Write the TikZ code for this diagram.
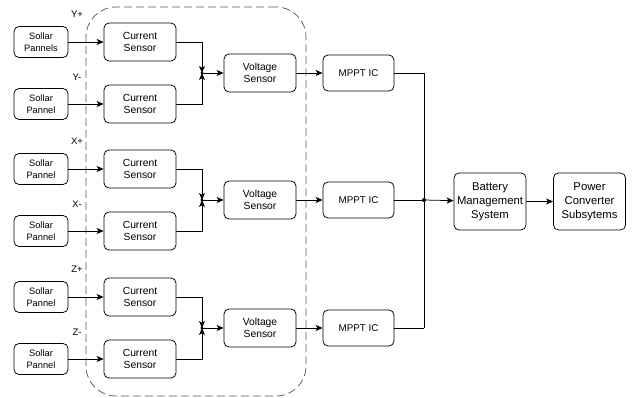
\documentclass[tikz,border=0pt]{standalone}
\usepackage{fontspec}
\setmainfont{Liberation Sans}
\usetikzlibrary{arrows.meta}
\begin{document}
\begin{tikzpicture}[x=1pt,y=-1pt,
  blk/.style={draw, rounded corners=5pt, align=center, inner sep=0pt, line width=0.75pt},
  panel/.style={blk, minimum width=54pt, minimum height=31pt, font=\fontsize{9.3}{11.5}\selectfont},
  sensor/.style={blk, minimum width=72pt, minimum height=38pt, font=\fontsize{10.3}{12.3}\selectfont},
  mppt/.style={blk, minimum width=71pt, minimum height=36pt, font=\fontsize{9.8}{12}\selectfont},
  bigbox/.style={blk, minimum width=72pt, minimum height=57pt, font=\fontsize{11.3}{13.8}\selectfont},
  lbl/.style={font=\fontsize{9.5}{11}\selectfont, inner sep=0pt},
  arr/.style={-{Stealth[length=7pt,width=6pt,inset=1.8pt]}, line width=0.75pt},
  ln/.style={line width=0.75pt},
  grp/.style={draw=black!65, dash pattern=on 8pt off 4pt, rounded corners=30pt, line width=0.75pt, minimum width=220pt, minimum height=389pt, inner sep=0pt}
  ]
\useasboundingbox (0,0) rectangle (636,398);
\node[grp] (group) at (196,201.5) {};
\foreach \g/\c/\la/\lb/\sa in {1/73/Y+/Y-/Pannels, 2/200/X+/X-/Pannel, 3/328/Z+/Z-/Pannel}{
  \node[panel] (pa\g) at (41,\c-31) {Sollar\\\sa};
  \node[panel] (pb\g) at (41,\c+31) {Sollar\\Pannel};
  \node[sensor] (ca\g) at (140,\c-31) {Current\\Sensor};
  \node[sensor] (cb\g) at (140,\c+31) {Current\\Sensor};
  \node[lbl] (la\g) at (77,\c-59) {\la};
  \node[lbl] (lb\g) at (77,\c+4) {\lb};
  \node[sensor] (v\g) at (260,\c) {Voltage\\Sensor};
  \node[mppt] (m\g) at (358.5,\c) {MPPT IC};
  \coordinate (j\g) at (202,\c);
  \coordinate (bus\g) at (424,\c);
  \draw[arr] (pa\g) -- (ca\g);
  \draw[arr] (pb\g) -- (cb\g);
  \draw[arr] (ca\g.east) -| (j\g);
  \draw[arr] (cb\g.east) -| (j\g);
  \fill (j\g) circle (1.6pt);
  \draw[arr] (j\g) -- (v\g);
  \draw[arr] (v\g) -- (m\g);
  \draw[ln] (m\g.east) -- (bus\g);
}
\draw[ln] (bus1) -- (bus3);
\fill (bus2) circle (2pt);
\node[bigbox] (bms) at (490,201.5) {Battery\\Management\\System};
\node[bigbox] (pcs) at (589.5,201.5) {Power\\Converter\\Subsytems};
\draw[arr] (bus2) -- (bms);
\draw[arr] (bms) -- (pcs);
\end{tikzpicture}
\end{document}
